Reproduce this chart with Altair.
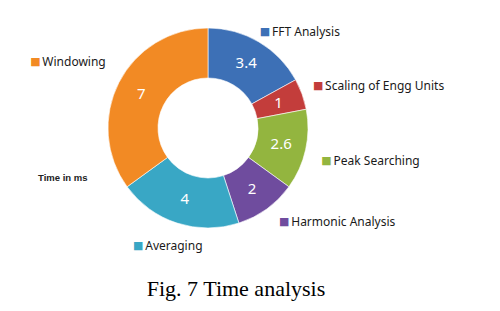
import altair as alt
import pandas as pd

categories = ["FFT Analysis", "Scaling of Engg Units", "Peak Searching",
              "Harmonic Analysis", "Averaging", "Windowing"]
values = [3.4, 1, 2.6, 2, 4, 7]
value_labels = ["3.4", "1", "2.6", "2", "4", "7"]
colors = ["#3d70b6", "#c33d3b", "#93b53f", "#6f4c9e", "#39a7c5", "#f28a24"]
unit_note = "Time in ms"
caption = "Fig. 7 Time analysis"

# legend-key placement (style): angular nudge in data units and pixel radius
key_nudge = {"Scaling of Engg Units": -0.07, "Peak Searching": 0.16,
             "Harmonic Analysis": -0.17, "Averaging": 0.7, "Windowing": -0.33}
key_radius = {"FFT Analysis": 112, "Scaling of Engg Units": 118, "Peak Searching": 123,
              "Harmonic Analysis": 121, "Averaging": 137, "Windowing": 185}

df = pd.DataFrame({"cat": categories, "value": values, "label": value_labels,
                   "idx": list(range(len(categories)))})
total = sum(values)


def lookup_expr(mapping, default):
    expr = str(default)
    for k, v in mapping.items():
        expr = f"(datum.cat=='{k}' ? {v} : {expr})"
    return expr


CX, CY = 208, 128
tscale = alt.Scale(domain=[0, total])
color = alt.Color("cat:N", scale=alt.Scale(domain=categories, range=colors), legend=None)
cx, cy = alt.value(CX), alt.value(CY)

base = alt.Chart(df)

arcs = base.mark_arc(outerRadius=100, innerRadius=50, stroke="#ffffff", strokeWidth=0.6).encode(
    theta=alt.Theta("value:Q", stack=True, scale=tscale),
    color=color, order=alt.Order("idx:Q"), x=cx, y=cy)

vals = base.mark_text(radius=75, fontSize=15, color="white", font="Noto Sans",
                      baseline="middle", align="center").encode(
    theta=alt.Theta("value:Q", stack=True, scale=tscale),
    order=alt.Order("idx:Q"), text="label:N", x=cx, y=cy)

leg = base.transform_window(
    cum="sum(value)", sort=[alt.SortField("idx")], frame=[None, 0]
).transform_calculate(
    lt="datum.cum - datum.value/2 + " + lookup_expr(key_nudge, 0),
    lr=lookup_expr(key_radius, 118),
)

markers = leg.mark_text(text="\u25a0", fontSize=11, font="DejaVu Sans",
                        baseline="middle", align="center").encode(
    theta=alt.Theta("lt:Q", scale=tscale),
    radius=alt.Radius("lr:Q", scale=None), color=color, x=cx, y=cy)

names = leg.mark_text(fontSize=12, font="Noto Sans", color="#1a1a1a",
                      baseline="middle", align="left", dx=7).encode(
    theta=alt.Theta("lt:Q", scale=tscale),
    radius=alt.Radius("lr:Q", scale=None), text="cat:N", x=cx, y=cy)

note = alt.Chart(pd.DataFrame({"t": [unit_note]})).mark_text(
    fontSize=9.5, fontWeight="bold", font="Liberation Sans", align="left",
    baseline="middle", color="#222").encode(text="t:N", x=alt.value(38), y=alt.value(178))

cap = alt.Chart(pd.DataFrame({"t": [caption]})).mark_text(
    fontSize=22, font="Liberation Serif", align="center", baseline="middle",
    color="#000").encode(text="t:N", x=alt.value(236), y=alt.value(289))

chart = alt.layer(arcs, vals, markers, names, note, cap).properties(
    width=500, height=311, autosize=alt.AutoSizeParams(type="none"), padding=0
).configure_view(stroke=None)

chart.save("out.html", embed_options={"renderer": "svg", "actions": False})
